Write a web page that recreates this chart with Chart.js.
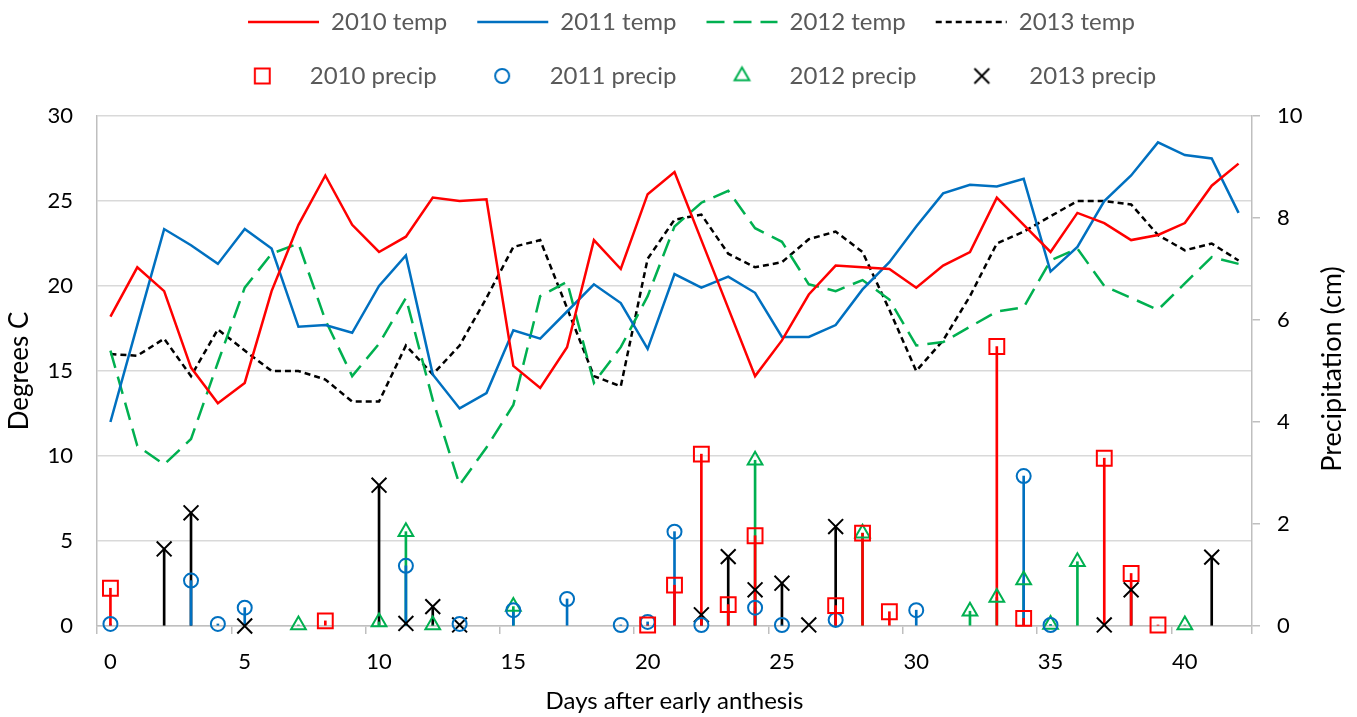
<!DOCTYPE html>
<html>
<head>
<meta charset="utf-8">
<script src="https://cdn.jsdelivr.net/npm/chart.js@4.4.1/dist/chart.umd.min.js"></script>
<style>
  html, body { margin: 0; padding: 0; background: #fff; }
  #wrap { width: 1357px; height: 717px; }
</style>
</head>
<body>
<div id="wrap"><canvas id="chart"></canvas></div>
<script>
// Days after early anthesis
const days = [0, 1, 2, 3, 4, 5, 6, 7, 8, 9, 10, 11, 12, 13, 14, 15, 16, 17, 18, 19, 20,
              21, 22, 23, 24, 25, 26, 27, 28, 29, 30, 31, 32, 33, 34, 35, 36, 37, 38, 39, 40, 41, 42];
const dayLabels = [0, 5, 10, 15, 20, 25, 30, 35, 40];
const dayTickMarks = [-0.5, 4.5, 9.5, 14.5, 19.5, 24.5, 29.5, 34.5, 39.5, 42.5];

// Temperature (degrees C), one value per day
const temp2010 = [18.2, 21.1, 19.7, 15.2, 13.1, 14.3, 19.7, 23.6, 26.5, 23.6, 22.0, 22.9, 25.2, 25.0, 25.1,
                  15.3, 14.0, 16.4, 22.7, 21.0, 25.4, 26.7, 22.7, 18.7, 14.7, 16.8, 19.5, 21.2, 21.1, 21.0,
                  19.9, 21.2, 22.0, 25.2, 23.6, 22.0, 24.3, 23.7, 22.7, 23.0, 23.7, 25.9, 27.2];
const temp2011 = [12.0, 17.7, 23.35, 22.4, 21.3, 23.35, 22.2, 17.6, 17.7, 17.25, 20.0, 21.8, 14.8, 12.8, 13.7,
                  17.4, 16.9, 18.5, 20.1, 19.0, 16.3, 20.7, 19.9, 20.55, 19.6, 17.0, 17.0, 17.7, 19.8, 21.4,
                  23.5, 25.45, 25.95, 25.85, 26.3, 20.85, 22.3, 25.0, 26.5, 28.45, 27.7, 27.5, 24.3];
const temp2012 = [16.2, 10.6, 9.5, 11.0, 15.5, 19.9, 21.9, 22.5, 18.0, 14.7, 16.6, 19.3, 13.3, 8.3, 10.5,
                  13.0, 19.4, 20.25, 14.3, 16.4, 19.4, 23.5, 24.9, 25.6, 23.4, 22.6, 20.1, 19.7, 20.35, 19.2,
                  16.5, 16.7, 17.6, 18.5, 18.75, 21.5, 22.2, 20.0, 19.3, 18.6, 20.15, 21.7, 21.3];
const temp2013 = [16.0, 15.9, 16.9, 14.7, 17.45, 16.2, 15.0, 15.0, 14.5, 13.2, 13.2, 16.5, 14.8, 16.5, 19.3,
                  22.3, 22.7, 18.7, 14.7, 14.1, 21.6, 23.9, 24.2, 21.9, 21.1, 21.4, 22.75, 23.2, 22.0, 18.6,
                  15.0, 16.8, 19.4, 22.5, 23.2, 24.1, 25.0, 25.0, 24.8, 23.0, 22.1, 22.5, 21.5];

// Precipitation (cm): days with a reading and the amounts
const precip2010Days = [0, 8, 20, 21, 22, 23, 24, 27, 28, 29, 33, 34, 37, 38, 39];
const precip2010 = [0.74, 0.1, 0.02, 0.8, 3.37, 0.42, 1.77, 0.4, 1.82, 0.28, 5.48, 0.15, 3.29, 1.03, 0.02];
const precip2011Days = [0, 3, 4, 5, 11, 13, 15, 17, 19, 20, 21, 22, 24, 25, 27, 30, 34, 35];
const precip2011 = [0.04, 0.89, 0.04, 0.36, 1.18, 0.04, 0.31, 0.53, 0.02, 0.08, 1.85, 0.02, 0.36, 0.02, 0.12, 0.31, 2.94, 0.02];
const precip2012Days = [7, 10, 11, 12, 15, 24, 28, 32, 33, 34, 35, 36, 40];
const precip2012 = [0.02, 0.08, 1.85, 0.02, 0.38, 3.25, 1.82, 0.29, 0.56, 0.9, 0.03, 1.26, 0.02];
const precip2013Days = [2, 3, 5, 10, 11, 12, 13, 22, 23, 24, 25, 26, 27, 37, 38, 41];
const precip2013 = [1.51, 2.22, 0.0, 2.76, 0.05, 0.38, 0.02, 0.22, 1.36, 0.71, 0.84, 0.02, 1.95, 0.02, 0.71, 1.35];

Chart.defaults.font.family = "Lato, 'Open Sans', sans-serif";

function points(xs, ys) {
    return xs.map((x, i) => ({ x: x, y: ys[i] }));
}

function tempSet(label, values, color, dash) {
    return {
        type: "line", label: label, data: points(days, values),
        borderColor: color, backgroundColor: color, borderWidth: 2.5, borderDash: dash,
        pointRadius: 0, pointHoverRadius: 0, pointStyle: "line", tension: 0,
        xAxisID: "x", yAxisID: "y",
    };
}

function precipSet(label, xs, values, color, style, radius) {
    return {
        type: "line", label: label, data: points(xs, values), showLine: false,
        borderColor: color, backgroundColor: "rgba(0,0,0,0)",
        pointStyle: style, pointRadius: radius, pointHoverRadius: radius, pointBorderWidth: 2,
        pointBorderColor: color, pointBackgroundColor: "rgba(0,0,0,0)",
        clip: false, xAxisID: "x", yAxisID: "y1",
    };
}

// drop line from each precip marker down to zero
function stemSet(xs, values, color) {
    return {
        type: "bar", label: "", data: points(xs, values),
        backgroundColor: color, barThickness: 2, grouped: false,
        xAxisID: "x", yAxisID: "y1",
    };
}

// legend icons for the markers, drawn with Chart.js' own point helper
const iconCache = {};
function markerIcon(style, color, radius) {
    const key = style + color + radius;
    if (!iconCache[key]) {
        const c = document.createElement("canvas");
        c.width = c.height = Math.ceil(radius * 2 + 6);
        const g = c.getContext("2d");
        g.strokeStyle = color;
        g.fillStyle = "rgba(0,0,0,0)";
        g.lineWidth = 2;
        Chart.helpers.drawPoint(g, { pointStyle: style, radius: radius, borderWidth: 2, rotation: 0 }, c.width / 2, c.height / 2);
        iconCache[key] = c;
    }
    return iconCache[key];
}

const rightTitle = {
    id: "rightTitle",
    afterDraw(chart) {
        const ctx = chart.ctx;
        const area = chart.chartArea;
        ctx.save();
        ctx.translate(chart.scales.y1.right - 25, (area.top + area.bottom) / 2 - 2);
        ctx.rotate(-Math.PI / 2);
        ctx.font = "27px Lato, 'Open Sans', sans-serif";
        ctx.fillStyle = "#000";
        ctx.textAlign = "center";
        ctx.textBaseline = "middle";
        ctx.fillText("Precipitation (cm)", 0, 0);
        ctx.restore();
    },
};

// keep the plot top at the same place and lift the two legend rows a bit
const legendPlacement = {
    id: "legendPlacement",
    afterInit(chart) {
        const legend = chart.legend;
        const fit = legend.fit;
        legend.fit = function () {
            fit.call(this);
            this.height = 116;
        };
    },
    afterLayout(chart) {
        const legend = chart.legend;
        legend.top -= 20;
        legend.bottom -= 20;
        legend.left += 17;
        legend.right += 17;
    },
};

const tickFont = { size: 22 };

new Chart(document.getElementById("chart"), {
    type: "line",
    data: {
        datasets: [
            tempSet("2010 temp", temp2010, "#ff0000", []),
            tempSet("2011 temp", temp2011, "#0070c0", []),
            tempSet("2012 temp", temp2012, "#00b050", [18, 9]),
            tempSet("2013 temp", temp2013, "#000000", [6, 4]),
            precipSet("2010 precip", precip2010Days, precip2010, "#ff0000", "rect", 10.5),
            precipSet("2011 precip", precip2011Days, precip2011, "#0070c0", "circle", 7),
            precipSet("2012 precip", precip2012Days, precip2012, "#00b050", "triangle", 8.5),
            precipSet("2013 precip", precip2013Days, precip2013, "#000000", "crossRot", 10.5),
            stemSet(precip2010Days, precip2010, "#ff0000"),
            stemSet(precip2011Days, precip2011, "#0070c0"),
            stemSet(precip2012Days, precip2012, "#00b050"),
            stemSet(precip2013Days, precip2013, "#000000"),
        ],
    },
    options: {
        responsive: true,
        maintainAspectRatio: false,
        devicePixelRatio: 1,
        animation: false,
        layout: { padding: 0 },
        plugins: {
            tooltip: { enabled: false },
            legend: {
                position: "top",
                fullSize: false,
                labels: {
                    usePointStyle: true,
                    pointStyleWidth: 71,
                    boxHeight: 10,
                    padding: 30,
                    color: "#595959",
                    font: { size: 24 },
                    filter: (item, data) => data.datasets[item.datasetIndex].type !== "bar",
                    generateLabels(chart) {
                        const items = Chart.defaults.plugins.legend.labels.generateLabels(chart);
                        items.forEach((item) => {
                            const ds = chart.data.datasets[item.datasetIndex];
                            if (ds.showLine === false) {
                                item.pointStyle = markerIcon(ds.pointStyle, ds.pointBorderColor, ds.pointRadius);
                            } else {
                                item.pointStyle = "line";
                                item.lineDash = ds.borderDash;
                                item.lineWidth = ds.borderWidth;
                                item.strokeStyle = ds.borderColor;
                            }
                        });
                        return items;
                    },
                },
            },
        },
        scales: {
            x: {
                type: "linear", position: "bottom", weight: 1,
                min: -0.5, max: 42.5, offset: false,
                afterBuildTicks: (s) => { s.ticks = dayLabels.map((v) => ({ value: v })); },
                grid: { display: false, drawTicks: false },
                border: { display: false },
                ticks: { font: tickFont, color: "#000", padding: 15, maxRotation: 0, autoSkip: false },
                title: { display: true, text: "Days after early anthesis", font: { size: 24 }, color: "#000", padding: { top: 4, bottom: 1 } },
                afterFit: (s) => { s.height = 83; },
            },
            xt: {
                type: "linear", position: "bottom", weight: 0,
                min: -0.5, max: 42.5, offset: false,
                afterBuildTicks: (s) => { s.ticks = dayTickMarks.map((v) => ({ value: v })); },
                grid: { drawOnChartArea: false, drawTicks: true, tickLength: 8, color: "#bfbfbf", lineWidth: 1.5 },
                border: { display: true, color: "#bfbfbf", width: 1.5 },
                ticks: { display: false },
                afterFit: (s) => { s.height = 8; },
            },
            y: {
                position: "left", min: 0, max: 30,
                ticks: { stepSize: 5, font: tickFont, color: "#000", padding: 24 },
                grid: { color: "#d9d9d9", lineWidth: 1.5, drawTicks: false },
                border: { display: true, color: "#bfbfbf", width: 1.5 },
                title: { display: true, text: "Degrees C", font: { size: 26 }, color: "#000", padding: { top: 4, bottom: 0 } },
                afterFit: (s) => { s.width = 97; },
            },
            y1: {
                position: "right", min: 0, max: 10,
                ticks: { stepSize: 2, font: tickFont, color: "#000", padding: 17 },
                grid: { drawOnChartArea: false, drawTicks: true, tickLength: 8, color: "#bfbfbf", lineWidth: 1.5 },
                border: { display: true, color: "#bfbfbf", width: 1.5 },
                afterFit: (s) => { s.width = 105; },
            },
        },
    },
    plugins: [rightTitle, legendPlacement],
});
</script>
</body>
</html>
